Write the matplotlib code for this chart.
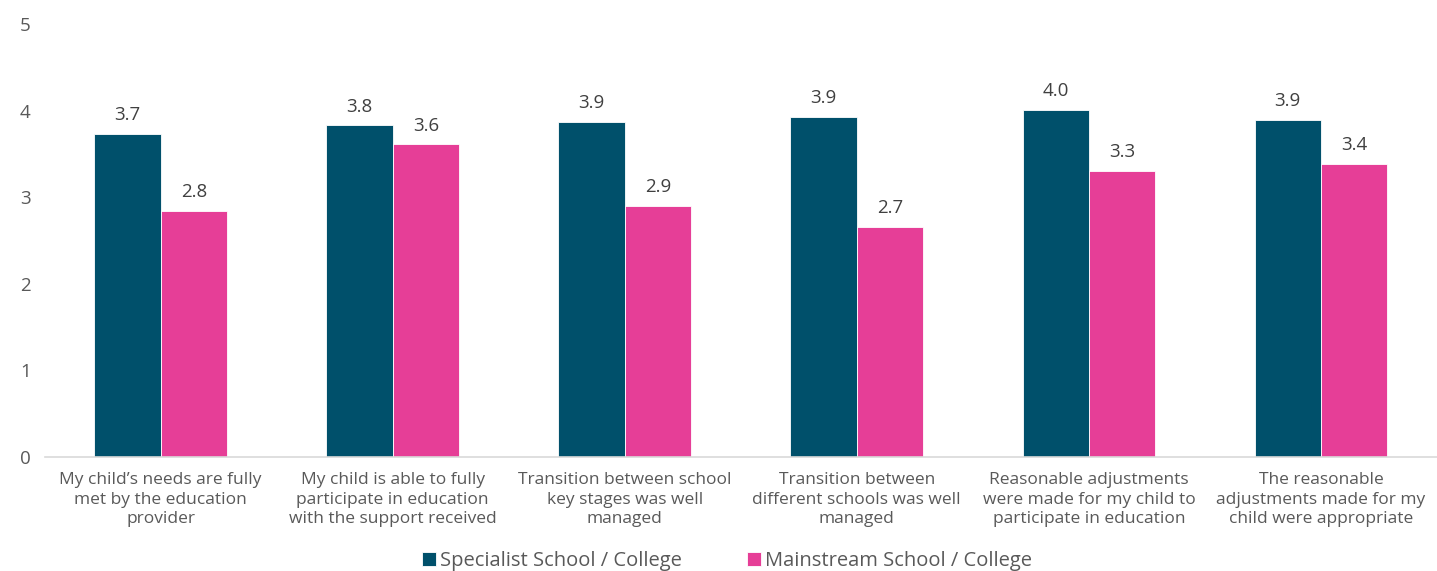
import numpy as np
import matplotlib.pyplot as plt

plt.rcParams['font.family'] = ['Open Sans', 'DejaVu Sans']

categorias = [
    "My child\u2019s needs are fully\nmet by the education\nprovider",
    "My child is able to fully\nparticipate in education\nwith the support received",
    "Transition between school\nkey stages was well\nmanaged",
    "Transition between\ndifferent schools was well\nmanaged",
    "Reasonable adjustments\nwere made for my child to\nparticipate in education",
    "The reasonable\nadjustments made for my\nchild were appropriate",
]
especialista = [3.73, 3.83, 3.87, 3.93, 4.01, 3.89]
ordinaria = [2.84, 3.61, 2.90, 2.66, 3.30, 3.38]
series = ["Specialist School / College", "Mainstream School / College"]

gris = '#595959'
colores = ['#00506B', '#E63E97']

fig = plt.figure(figsize=(14.37, 5.71), dpi=100)
ax = fig.add_axes([0.031, 0.2, 0.969, 0.758])

x = np.arange(len(categorias))
ancho = 0.286
b1 = ax.bar(x - ancho/2, especialista, ancho, color=colores[0], edgecolor='white', linewidth=0.6, label=series[0])
b2 = ax.bar(x + ancho/2, ordinaria, ancho, color=colores[1], edgecolor='white', linewidth=0.6, label=series[1])

# Etiquetas de valor encima de cada barra
for barras in (b1, b2):
    ax.bar_label(barras, labels=[f'{v:.1f}' for v in barras.datavalues], padding=7, fontsize=13.5, color='#404040')

ax.set_xlim(-0.5, len(categorias) - 0.5)
ax.set_ylim(0, 5)
ax.set_yticks(range(6))
ax.set_xticks(x)
ax.set_xticklabels(categorias, fontsize=12.5, color=gris, linespacing=1.3)
ax.tick_params(axis='y', length=0, labelsize=13.5, labelcolor=gris, pad=10)
ax.tick_params(axis='x', length=0, pad=11)
for lado in ['top', 'right', 'left']:
    ax.spines[lado].set_visible(False)
ax.spines['bottom'].set_color('#D9D9D9')
ax.spines['bottom'].set_linewidth(1.2)

ax.legend(loc='center', bbox_to_anchor=(0.49, -0.24), ncol=2, frameon=False,
          fontsize=14.5, labelcolor=gris, handlelength=0.7, handleheight=0.7,
          handletextpad=0.2, columnspacing=3.2, borderaxespad=0)

plt.savefig('out.png', dpi=100)
plt.close()
